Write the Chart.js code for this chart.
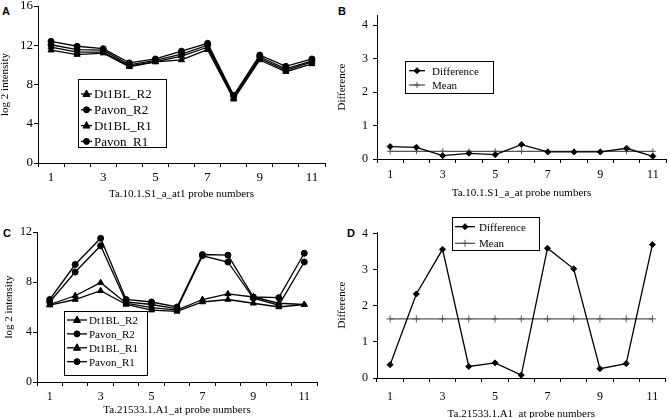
<!DOCTYPE html>
<html><head><meta charset="utf-8">
<script src="https://cdn.jsdelivr.net/npm/chart.js@4.4.1/dist/chart.umd.min.js"></script>
<style>
html,body{margin:0;padding:0;background:#fff;width:670px;height:418px;overflow:hidden;position:relative}
canvas{position:absolute}
.lbl{position:absolute;font:bold 11px 'Liberation Sans',Arial,sans-serif;color:#000;line-height:11px}
</style></head><body>
<div class="lbl" style="left:2px;top:6px">A</div>
<div class="lbl" style="left:338px;top:6px">B</div>
<div class="lbl" style="left:3px;top:228px">C</div>
<div class="lbl" style="left:347px;top:228px">D</div>
<canvas id="cA" width="335" height="205" style="left:0;top:0"></canvas>
<canvas id="cB" width="335" height="205" style="left:335px;top:0"></canvas>
<canvas id="cC" width="335" height="213" style="left:0;top:205px"></canvas>
<canvas id="cD" width="335" height="213" style="left:335px;top:205px"></canvas>
<script>
// ---------- data ----------
const probeNumbers = ['1','2','3','4','5','6','7','8','9','10','11'];
const xTickLabels = ['1','','3','','5','','7','','9','','11'];

// Panel A: Ta.10.1.S1_a_at1 log2 intensity
const aDt1BL_R2 = [11.5, 11.05, 11.2, 9.8, 10.3, 10.5, 11.55, 6.5, 10.5, 9.3, 10.1];
const aPavon_R2 = [12.05, 11.55, 11.5, 10.0, 10.45, 11.1, 12.0, 6.8, 10.8, 9.6, 10.4];
const aDt1BL_R1 = [11.8, 11.3, 11.3, 9.9, 10.3, 10.9, 11.8, 6.65, 10.65, 9.45, 10.3];
const aPavon_R1 = [12.4, 11.9, 11.65, 10.2, 10.6, 11.4, 12.2, 6.9, 11.0, 9.85, 10.6];
const yTicksA = [0, 4, 8, 12, 16];

// Panel B: Ta.10.1.S1_a_at difference
const bDifference = [0.37, 0.35, 0.10, 0.17, 0.13, 0.43, 0.21, 0.21, 0.21, 0.32, 0.08];
const bMean = [0.23, 0.23, 0.23, 0.23, 0.23, 0.23, 0.23, 0.23, 0.23, 0.23, 0.23];
const yTicksB = [0, 1, 2, 3, 4];

// Panel C: Ta.21533.1.A1_at log2 intensity
const cDt1BL_R2 = [6.15, 6.6, 7.3, 6.2, 5.75, 5.65, 6.4, 6.6, 6.3, 6.0, 6.2];
const cPavon_R2 = [6.4, 8.8, 10.9, 6.4, 6.2, 5.85, 10.1, 9.6, 6.7, 6.15, 9.6];
const cDt1BL_R1 = [6.2, 6.9, 7.95, 6.3, 5.95, 5.75, 6.6, 7.05, 6.8, 6.3, 6.2];
const cPavon_R1 = [6.6, 9.4, 11.5, 6.6, 6.4, 6.0, 10.2, 10.15, 6.8, 6.75, 10.3];
const yTicksC = [0, 4, 8, 12];

// Panel D: Ta.21533.1.A1_at difference
const dDifference = [0.37, 2.33, 3.57, 0.32, 0.42, 0.08, 3.6, 3.03, 0.26, 0.4, 3.7];
const dMean = [1.64, 1.64, 1.64, 1.64, 1.64, 1.64, 1.64, 1.64, 1.64, 1.64, 1.64];
const yTicksD = [0, 1, 2, 3, 4];

// ---------- helpers ----------
const SERIF = "'Liberation Serif','Times New Roman',serif";

function drawMarker(ctx, style, x, y, r, color) {
  ctx.save();
  ctx.fillStyle = color; ctx.strokeStyle = color; ctx.lineWidth = 1;
  ctx.beginPath();
  if (style === 'triangle') {
    ctx.moveTo(x, y - r * 1.15); ctx.lineTo(x + r, y + r * 0.7); ctx.lineTo(x - r, y + r * 0.7);
    ctx.closePath(); ctx.fill(); ctx.stroke();
  } else if (style === 'circle') {
    ctx.arc(x, y, r, 0, Math.PI * 2); ctx.fill(); ctx.stroke();
  } else if (style === 'rectRot') {
    ctx.moveTo(x, y - r); ctx.lineTo(x + r, y); ctx.lineTo(x, y + r); ctx.lineTo(x - r, y);
    ctx.closePath(); ctx.fill(); ctx.stroke();
  } else if (style === 'cross') {
    ctx.moveTo(x, y - r); ctx.lineTo(x, y + r); ctx.moveTo(x - r, y); ctx.lineTo(x + r, y); ctx.stroke();
  }
  ctx.restore();
}

const boxLegend = {
  id: 'boxLegend',
  afterDraw(chart, args, o) {
    const ctx = chart.ctx;
    ctx.save();
    ctx.fillStyle = '#fff'; ctx.fillRect(o.x, o.y, o.w, o.h);
    ctx.strokeStyle = '#000'; ctx.lineWidth = 1;
    ctx.strokeRect(o.x + 0.5, o.y + 0.5, o.w, o.h);
    chart.data.datasets.forEach((ds, i) => {
      const yy = o.first + i * o.rowH;
      ctx.strokeStyle = ds.borderColor; ctx.lineWidth = ds.borderWidth;
      ctx.beginPath(); ctx.moveTo(o.l0, yy); ctx.lineTo(o.l1, yy); ctx.stroke();
      drawMarker(ctx, ds.pointStyle, (o.l0 + o.l1) / 2, yy, ds.pointRadius, ds.borderColor);
      ctx.fillStyle = '#000';
      ctx.font = o.fontSize + 'px ' + SERIF;
      ctx.textBaseline = 'middle'; ctx.textAlign = 'left';
      ctx.fillText(ds.label, o.tx, yy + 1);
    });
    ctx.restore();
  }
};

function lineDs(label, data, style, color, r) {
  return {
    label, data, borderColor: color, backgroundColor: color, borderWidth: 1.3,
    pointStyle: style, pointRadius: r, pointHoverRadius: r, pointBorderWidth: 1,
    pointBackgroundColor: color, pointBorderColor: color, tension: 0, fill: false
  };
}

function makeChart(id, cfg) {
  const W = cfg.W, H = cfg.H;
  return new Chart(document.getElementById(id), {
    type: 'line',
    data: { labels: probeNumbers, datasets: cfg.datasets },
    options: {
      responsive: false, animation: false, devicePixelRatio: 1,
      layout: { padding: { left: 0, top: cfg.top, right: W - cfg.right, bottom: 0 } },
      plugins: { legend: { display: false }, tooltip: { enabled: false }, boxLegend: cfg.legend },
      scales: {
        x: {
          type: 'category', offset: true,
          grid: { offset: true, drawOnChartArea: false, drawTicks: true, tickLength: 4, color: '#000', lineWidth: 1 },
          border: { display: true, color: '#000', width: 1 },
          ticks: {
            autoSkip: false, maxRotation: 0, padding: cfg.xTickPad, color: '#000',
            font: { family: SERIF, size: cfg.tickSize },
            callback: (v, i) => xTickLabels[i]
          },
          title: {
            display: true, text: cfg.xTitle, color: '#000',
            font: { family: SERIF, size: 11, lineHeight: 1 },
            padding: { top: 0, bottom: cfg.xTitlePad }
          },
          afterFit: s => { s.height = H - cfg.bottom; s.paddingLeft = 0; s.paddingRight = 0; }
        },
        y: {
          type: 'linear', min: 0, max: cfg.ymax,
          afterBuildTicks: s => { s.ticks = cfg.yTicks.map(v => ({ value: v })); },
          grid: { drawOnChartArea: false, drawTicks: true, tickLength: 4, color: '#000', lineWidth: 1 },
          border: { display: true, color: '#000', width: 1 },
          ticks: { padding: cfg.yTickPad, color: '#000', font: { family: SERIF, size: cfg.tickSize } },
          title: {
            display: true, text: cfg.yTitle, color: '#000',
            font: { family: SERIF, size: 11, lineHeight: 1 },
            padding: { top: cfg.yTitlePad, bottom: 0 }
          },
          afterFit: s => { s.width = cfg.left; s.paddingTop = 0; s.paddingBottom = 0; }
        }
      }
    },
    plugins: [boxLegend]
  });
}

// ---------- charts ----------
makeChart('cA', {
  W: 335, H: 205, left: 38, right: 325, top: 6, bottom: 163, ymax: 16, yTicks: yTicksA,
  tickSize: 13, xTickPad: 3, yTickPad: 1, xTitlePad: 5, yTitlePad: 0,
  xTitle: 'Ta.10.1.S1_a_at1 probe numbers', yTitle: 'log 2 intensity',
  datasets: [
    lineDs('Dt1BL_R2', aDt1BL_R2, 'triangle', '#000', 3.5),
    lineDs('Pavon_R2', aPavon_R2, 'circle', '#000', 3),
    lineDs('Dt1BL_R1', aDt1BL_R1, 'triangle', '#000', 3.5),
    lineDs('Pavon_R1', aPavon_R1, 'circle', '#000', 3)
  ],
  legend: { x: 78, y: 79, w: 88, h: 68, first: 94, rowH: 15.8, l0: 81, l1: 92, tx: 94, fontSize: 13 }
});

makeChart('cB', {
  W: 335, H: 205, left: 42, right: 333, top: 15, bottom: 159, ymax: 4.3, yTicks: yTicksB,
  tickSize: 12, xTickPad: 5, yTickPad: 5, xTitlePad: 6, yTitlePad: 2,
  xTitle: 'Ta.10.1.S1_a_at probe numbers', yTitle: 'Difference',
  datasets: [
    lineDs('Difference', bDifference, 'rectRot', '#000', 3),
    lineDs('Mean', bMean, 'cross', '#555', 3)
  ],
  legend: { x: 70, y: 61, w: 88, h: 32, first: 70.7, rowH: 14.3, l0: 74, l1: 90, tx: 97, fontSize: 11 }
});

makeChart('cC', {
  W: 335, H: 213, left: 37, right: 317, top: 27, bottom: 177, ymax: 12, yTicks: yTicksC,
  tickSize: 12, xTickPad: 4, yTickPad: 1, xTitlePad: 2, yTitlePad: 4,
  xTitle: 'Ta.21533.1.A1_at probe numbers', yTitle: 'log 2 intensity',
  datasets: [
    lineDs('Dt1BL_R2', cDt1BL_R2, 'triangle', '#000', 3.5),
    lineDs('Pavon_R2', cPavon_R2, 'circle', '#000', 3),
    lineDs('Dt1BL_R1', cDt1BL_R1, 'triangle', '#000', 3.5),
    lineDs('Pavon_R1', cPavon_R1, 'circle', '#000', 3)
  ],
  legend: { x: 64, y: 106, w: 83, h: 64, first: 115, rowH: 13.9, l0: 67, l1: 87, tx: 89, fontSize: 11 }
});

makeChart('cD', {
  W: 335, H: 213, left: 42, right: 332, top: 27, bottom: 173, ymax: 4.05, yTicks: yTicksD,
  tickSize: 12, xTickPad: 8, yTickPad: 5, xTitlePad: -2, yTitlePad: 2,
  xTitle: 'Ta.21533.1.A1_at probe numbers', yTitle: 'Difference',
  datasets: [
    lineDs('Difference', dDifference, 'rectRot', '#000', 3),
    lineDs('Mean', dMean, 'cross', '#555', 3.5)
  ],
  legend: { x: 117, y: 12, w: 87, h: 33, first: 21.7, rowH: 16.6, l0: 120, l1: 140, tx: 144, fontSize: 11 }
});
</script>
</body></html>
